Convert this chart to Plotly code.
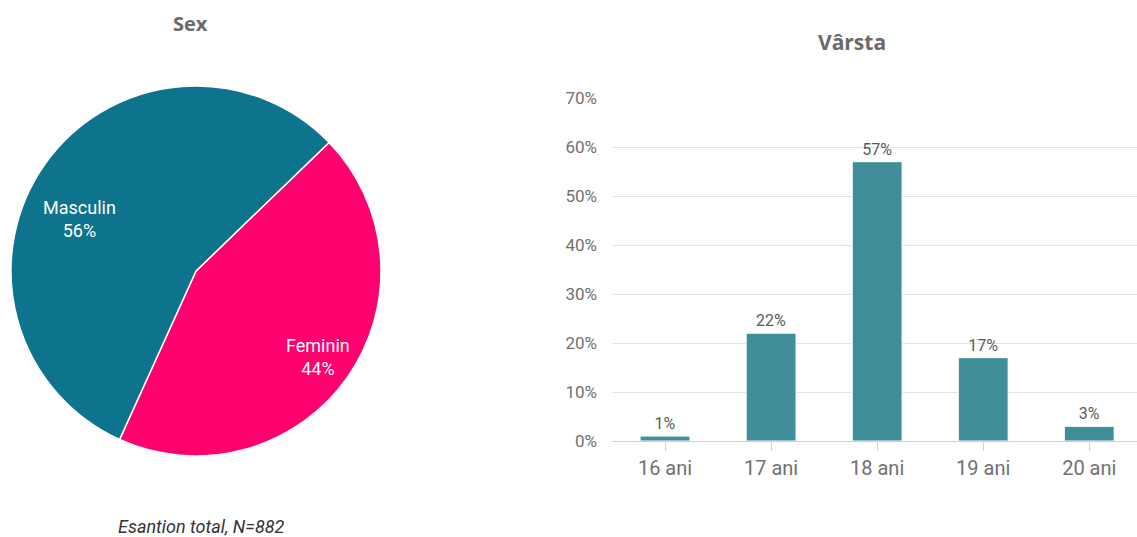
import math
import plotly.graph_objects as go

sex_labels = ["Feminin", "Masculin"]
sex_values = [44, 56]
sex_colors = ["#FF006E", "#0E738C"]

age_labels = ["16 ani", "17 ani", "18 ani", "19 ani", "20 ani"]
age_values = [1, 22, 57, 17, 3]
age_text = ["1%", "22%", "57%", "17%", "3%"]

W, H = 1137, 537

# pie geometry (pixels)
PIE_CX, PIE_CY, PIE_R = 196, 271, 185
PIE_ROT = 46
LABEL_FRAC = [0.81, 0.69]
LABEL_ANGLE_SHIFT = [0, -11]

fig = go.Figure()

fig.add_trace(go.Pie(
    labels=sex_labels, values=sex_values,
    marker=dict(colors=sex_colors, line=dict(color="white", width=1.5)),
    sort=False, direction="clockwise", rotation=PIE_ROT,
    textinfo="none",
    domain=dict(x=[(PIE_CX - PIE_R) / W, (PIE_CX + PIE_R) / W],
                y=[1 - (PIE_CY + PIE_R) / H, 1 - (PIE_CY - PIE_R) / H]),
    showlegend=False, hoverinfo="label+percent",
))

# pie labels placed at slice mid-angles computed from the data
annotations = []
total = sum(sex_values)
start = PIE_ROT
for lab, val, frac, shift in zip(sex_labels, sex_values, LABEL_FRAC, LABEL_ANGLE_SHIFT):
    span = 360 * val / total
    mid = math.radians(start + span / 2 + shift)
    start += span
    px = PIE_CX + frac * PIE_R * math.sin(mid)
    py = PIE_CY - frac * PIE_R * math.cos(mid)
    annotations.append(dict(
        text=f"{lab}<br>{round(100 * val / total)}%", x=px / W, y=1 - py / H,
        xref="paper", yref="paper", showarrow=False, align="center",
        font=dict(size=18, color="white", family="Roboto"),
        xanchor="center", yanchor="middle"))

fig.add_trace(go.Bar(
    x=list(range(len(age_labels))), y=age_values,
    text=age_text, textposition="outside",
    textfont=dict(color="#5a5a5a", size=16, family="Roboto"),
    marker=dict(color="#408E99", line=dict(color="white", width=1)),
    width=0.47, cliponaxis=False, showlegend=False,
    xaxis="x", yaxis="y",
))

annotations += [
    dict(text="<b>Sex</b>", x=190 / W, y=1 - 24 / H, xref="paper", yref="paper",
         showarrow=False, font=dict(size=20, color="#6a6a6a", family="Open Sans"),
         xanchor="center", yanchor="middle"),
    dict(text="<b>Vârsta</b>", x=852 / W, y=1 - 42 / H, xref="paper", yref="paper",
         showarrow=False, font=dict(size=21, color="#6a6a6a", family="Open Sans"),
         xanchor="center", yanchor="middle"),
    dict(text="<i>Esantion total, N=882</i>", x=201 / W, y=1 - 526 / H,
         xref="paper", yref="paper", showarrow=False,
         font=dict(size=18, color="#333333", family="Roboto"),
         xanchor="center", yanchor="middle"),
]

fig.update_layout(
    width=W, height=H,
    margin=dict(l=0, r=0, t=0, b=0, autoexpand=False),
    paper_bgcolor="white", plot_bgcolor="white",
    font=dict(family="Roboto", color="#6e6e6e"),
    xaxis=dict(
        domain=[612 / W, 1.0], range=[-0.5, 4.45], automargin=False,
        tickmode="array", tickvals=list(range(len(age_labels))), ticktext=age_labels,
        ticks="outside", tickson="boundaries", ticklen=9, tickcolor="#d0d0d0",
        showline=True, linecolor="#d0d0d0", linewidth=1,
        showgrid=False, zeroline=False,
        tickfont=dict(size=20, color="#707070", family="Roboto"),
    ),
    yaxis=dict(
        domain=[1 - 441 / H, 1 - 98 / H], range=[0, 70], automargin=False,
        tickmode="array", tickvals=[0, 10, 20, 30, 40, 50, 60, 70],
        ticktext=["0%", "10%", "20%", "30%", "40%", "50%", "60%", "70%"],
        showgrid=True, gridcolor="#e3e3e3", gridwidth=1,
        zeroline=False, showline=False,
        ticks="", ticklabelstandoff=14,
        tickfont=dict(size=17, color="#707070", family="Roboto"),
    ),
    annotations=annotations,
)

fig.write_html("out.html", config={"displayModeBar": False},
               post_script="document.body.style.margin='0';document.body.style.overflow='hidden';")
